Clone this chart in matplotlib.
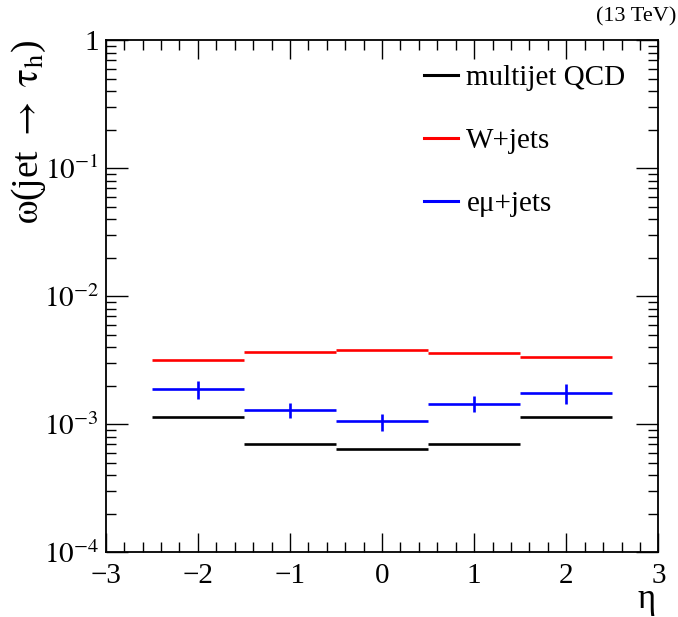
import matplotlib
matplotlib.use("Agg")
import matplotlib.pyplot as plt
import numpy as np
from matplotlib.lines import Line2D
from matplotlib.ticker import FixedLocator, FuncFormatter, LogLocator, NullFormatter, MultipleLocator

plt.rcParams['font.family'] = ['Liberation Serif', 'DejaVu Serif']
plt.rcParams['mathtext.fontset'] = 'stix'
plt.rcParams['mathtext.default'] = 'rm'

# eta bins
bin_centers = [-2.0, -1.0, 0.0, 1.0, 2.0]
bin_halfwidth = [0.5, 0.5, 0.5, 0.5, 0.5]

# jet -> tau_h fake rates
qcd = [1.13e-3, 7.03e-4, 6.4e-4, 7.0e-4, 1.14e-3]
wjets = [3.16e-3, 3.65e-3, 3.78e-3, 3.58e-3, 3.32e-3]
emu = [1.87e-3, 1.29e-3, 1.05e-3, 1.45e-3, 1.75e-3]
emu_err = [0.31e-3, 0.18e-3, 0.16e-3, 0.20e-3, 0.30e-3]

labels = ['multijet QCD', 'W+jets', 'e\u03bc+jets']
colors = ['black', 'red', 'blue']

fig = plt.figure(figsize=(6.78, 6.17), dpi=100)
ax = fig.add_axes([0.156, 0.105, 0.815, 0.830])

ax.errorbar(bin_centers, qcd, xerr=bin_halfwidth, fmt='none', ecolor=colors[0], elinewidth=1.9)
ax.errorbar(bin_centers, wjets, xerr=bin_halfwidth, fmt='none', ecolor=colors[1], elinewidth=1.9)
ax.errorbar(bin_centers, emu, xerr=bin_halfwidth, yerr=emu_err, fmt='none', ecolor=colors[2], elinewidth=1.9)

ax.set_yscale('log')
ax.set_xlim(-3, 3)
ax.set_ylim(1e-4, 1)

def yfmt(v, pos):
    e = int(round(np.log10(v)))
    if e == 0:
        return '1'
    return r'$10^{%d}$' % e

ax.yaxis.set_major_locator(FixedLocator([1e-4, 1e-3, 1e-2, 1e-1, 1]))
ax.yaxis.set_major_formatter(FuncFormatter(yfmt))
ax.yaxis.set_minor_locator(LogLocator(base=10, subs=np.arange(2, 10), numticks=20))
ax.yaxis.set_minor_formatter(NullFormatter())
ax.xaxis.set_major_locator(MultipleLocator(1))
ax.xaxis.set_minor_locator(MultipleLocator(0.2))
ax.xaxis.set_major_formatter(FuncFormatter(lambda v, p: ('%d' % v).replace('-', '\u2212')))

ax.tick_params(which='both', direction='in', top=True, right=True, labelsize=21, width=1.0)
ax.tick_params(which='major', length=14)
ax.tick_params(which='minor', length=7)
ax.tick_params(axis='x', which='major', pad=8)
ax.tick_params(axis='y', which='major', length=16, pad=5)
for s in ax.spines.values():
    s.set_linewidth(1.3)

ax.set_xlabel('\u03b7', fontsize=25)
ax.xaxis.set_label_coords(0.995, -0.092)
ax.xaxis.label.set_horizontalalignment('right')
ax.xaxis.label.set_verticalalignment('center')
ax.set_ylabel(r'$\omega$(jet $\rightarrow$ $\tau_{\rm h}$)', fontsize=27)
ax.yaxis.set_label_coords(-0.105, 1.0)
ax.yaxis.label.set_horizontalalignment('right')

handles = [Line2D([], [], color=c, lw=2.2) for c in colors]
leg = ax.legend(handles, labels, loc='upper left', bbox_to_anchor=(0.555, 0.975), frameon=False, fontsize=21,
                handlelength=1.15, handletextpad=0.3, labelspacing=1.25, borderaxespad=0)

fig.text(0.997, 0.972, '(13 TeV)', ha='right', va='center', fontsize=16)

fig.savefig('out.png', dpi=100)
